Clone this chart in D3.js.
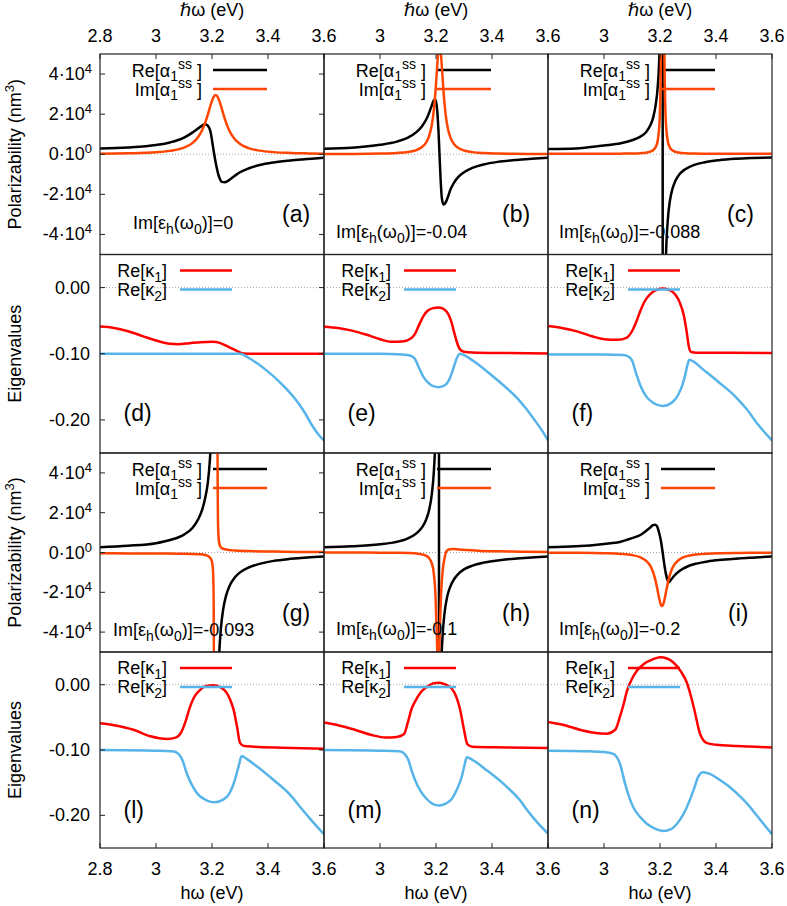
<!DOCTYPE html>
<html><head><meta charset="utf-8">
<script src="https://cdn.jsdelivr.net/npm/d3@7"></script>
<style>
body{margin:0;background:#fff}
svg{display:block}
text{font-family:"Liberation Sans",Arial,Helvetica,"DejaVu Sans",sans-serif;fill:#000}
</style>
</head><body>
<svg id="c" width="787" height="906"></svg>
<script>
// ---------------- DATA ----------------
// x axis ticks
const xTicks = [2.8, 3.0, 3.2, 3.4, 3.6];
const xTickLabels = ["2.8", "3", "3.2", "3.4", "3.6"];
// polarizability ticks (mantissa, exponent)
const polTicks = [-4e4, -2e4, 0, 2e4, 4e4];
const polTickLabels = [["-4", "4"], ["-2", "4"], ["0", "0"], ["2", "4"], ["4", "4"]];
// eigenvalue ticks
const eigTicks = [0, -0.1, -0.2];
const eigTickLabels = ["0.00", "-0.10", "-0.20"];
// panel letters and Im[eps_h] annotations
const panelLetters = ["(a)", "(b)", "(c)", "(d)", "(e)", "(f)", "(g)", "(h)", "(i)", "(l)", "(m)", "(n)"];
const imEpsValues = ["0", "-0.04", "-0.088", "-0.093", "-0.1", "-0.2"];

// Polarizability series [ħω (eV), value (nm^3)]
const aRe = [[2.80,2900],[2.90,3400],[3.00,4600],[3.05,5900],[3.10,8300],[3.13,10800],[3.15,12800],[3.165,14300],[3.175,15000],[3.185,14300],[3.195,11000],[3.205,2500],[3.215,-5500],[3.225,-11200],[3.235,-13800],[3.245,-14000],[3.26,-13000],[3.28,-10900],[3.30,-9000],[3.33,-7100],[3.37,-5400],[3.42,-4100],[3.48,-3100],[3.54,-2400],[3.60,-1700]];
const aIm = [[2.80,270],[2.90,470],[3.00,1000],[3.05,1680],[3.10,3290],[3.13,5560],[3.15,8480],[3.165,12090],[3.175,15500],[3.185,19800],[3.195,24500],[3.205,28400],[3.213,29500],[3.22,28600],[3.23,25000],[3.24,20300],[3.25,15900],[3.26,12400],[3.28,7760],[3.30,5150],[3.33,3090],[3.37,1800],[3.42,1060],[3.48,650],[3.54,435],[3.60,310]];
const bRe = [[2.80,2800],[2.90,3300],[3.00,4700],[3.06,6300],[3.10,8300],[3.13,11000],[3.15,14000],[3.165,17300],[3.175,20500],[3.185,24400],[3.192,26900],[3.198,27300],[3.204,22400],[3.209,11200],[3.2125,0],[3.216,-11200],[3.221,-22000],[3.227,-25000],[3.234,-24200],[3.242,-21500],[3.252,-17500],[3.265,-14000],[3.28,-11300],[3.30,-9000],[3.33,-6800],[3.37,-5100],[3.42,-3800],[3.48,-2900],[3.54,-2300],[3.60,-1700]];
const bIm = [[2.80,100],[2.90,150],[3.00,330],[3.06,640],[3.10,1160],[3.13,2100],[3.15,3600],[3.165,5900],[3.175,8900],[3.185,14600],[3.192,21600],[3.198,31000],[3.204,43500],[3.209,52600],[3.2125,55000],[3.216,52600],[3.221,43500],[3.227,31000],[3.234,20400],[3.242,13100],[3.252,8200],[3.265,5000],[3.28,3100],[3.30,1900],[3.33,1060],[3.37,600],[3.42,350],[3.48,210],[3.54,140],[3.60,100]];
const cRe = [[2.80,2600],[2.90,2900],[3.00,4400],[3.06,5500],[3.10,7000],[3.13,8800],[3.15,11000],[3.165,14300],[3.175,18000],[3.185,25000],[3.192,34000],[3.198,51000],[3.203,91000],[3.207,230000],[3.2095,1000000],[3.2097,-1000000],[3.212,-250000],[3.216,-94000],[3.221,-52600],[3.228,-32600],[3.236,-22700],[3.245,-17000],[3.255,-13200],[3.27,-9900],[3.29,-7500],[3.32,-5400],[3.36,-4000],[3.41,-3000],[3.47,-2300],[3.53,-1900],[3.60,-1600]];
const cIm = [[2.80,200],[2.90,200],[3.00,250],[3.06,300],[3.10,380],[3.13,540],[3.15,800],[3.165,1270],[3.175,2000],[3.185,3700],[3.192,7000],[3.198,15300],[3.203,44700],[3.207,197000],[3.2096,532000],[3.212,218000],[3.216,47300],[3.221,15900],[3.228,6400],[3.236,3200],[3.245,1900],[3.255,1200],[3.27,780],[3.29,530],[3.32,370],[3.36,290],[3.41,250],[3.47,230],[3.53,200],[3.60,200]];
const gRe = [[2.80,2700],[2.90,3400],[3.00,4700],[3.05,6300],[3.10,9000],[3.13,12300],[3.15,16500],[3.165,21500],[3.175,27000],[3.185,35000],[3.192,45600],[3.197,58300],[3.203,87500],[3.208,150000],[3.211,null],[3.2135,-154000],[3.218,-88000],[3.222,-63800],[3.226,-50000],[3.232,-37800],[3.24,-28500],[3.25,-21800],[3.265,-16100],[3.28,-12800],[3.30,-10000],[3.33,-7600],[3.37,-5700],[3.42,-4200],[3.48,-3200],[3.54,-2500],[3.60,-2000]];
const gIm = [[2.80,-400],[2.90,-450],[3.00,-500],[3.08,-600],[3.13,-700],[3.16,-900],[3.18,-1400],[3.19,-2200],[3.197,-3500],[3.201,-5500],[3.204,-10000],[3.206,-25000],[3.208,-100000],[3.210,-400000],[3.213,null],[3.216,400000],[3.2185,100000],[3.2205,30000],[3.222,12000],[3.2245,6000],[3.228,3500],[3.235,2200],[3.25,1500],[3.28,1000],[3.33,700],[3.40,500],[3.50,300],[3.60,200]];
const hRe = [[2.80,2700],[2.90,3100],[3.00,4100],[3.05,5100],[3.10,7100],[3.13,9600],[3.15,12600],[3.165,16600],[3.175,21100],[3.185,29200],[3.192,40000],[3.198,58500],[3.203,95000],[3.207,190000],[3.2105,600000],[3.2109,-600000],[3.213,-96800],[3.216,-70400],[3.219,-55300],[3.223,-43000],[3.23,-31000],[3.24,-22100],[3.25,-17500],[3.265,-13300],[3.28,-10700],[3.30,-8500],[3.33,-6600],[3.37,-5100],[3.42,-4000],[3.48,-3100],[3.54,-2500],[3.60,-2000]];
const hIm = [[2.80,0],[2.90,-30],[3.00,-70],[3.06,-140],[3.10,-270],[3.13,-520],[3.15,-930],[3.165,-1670],[3.175,-2780],[3.185,-5470],[3.192,-10300],[3.198,-21000],[3.203,-41900],[3.208,-62600],[3.213,-41900],[3.218,-21000],[3.224,-9000],[3.231,-2500],[3.238,800],[3.25,1600],[3.265,1700],[3.28,1500],[3.31,1200],[3.35,900],[3.42,600],[3.50,400],[3.60,250]];
const iRe = [[2.80,2700],[2.90,3100],[3.00,4300],[3.06,5400],[3.10,7200],[3.13,8800],[3.15,10800],[3.165,12600],[3.175,13700],[3.183,14000],[3.19,13000],[3.197,9800],[3.203,6000],[3.207,2500],[3.211,-1500],[3.217,-7500],[3.224,-12500],[3.231,-15000],[3.24,-13600],[3.25,-11800],[3.265,-9800],[3.28,-8300],[3.30,-6900],[3.33,-5600],[3.37,-4500],[3.42,-3700],[3.48,-3000],[3.54,-2500],[3.60,-2000]];
const iIm = [[2.80,-100],[2.90,-160],[3.00,-360],[3.06,-700],[3.10,-1300],[3.13,-2400],[3.15,-4100],[3.165,-6600],[3.175,-9700],[3.183,-13500],[3.19,-18000],[3.197,-23000],[3.203,-26300],[3.207,-27000],[3.211,-26300],[3.217,-23000],[3.224,-18000],[3.231,-13500],[3.24,-9300],[3.25,-6400],[3.265,-4000],[3.28,-2600],[3.30,-1700],[3.33,-1000],[3.37,-570],[3.42,-340],[3.48,-210],[3.54,-140],[3.60,-100]];

// Eigenvalue series [ħω (eV), Re[kappa]]
const dK1 = [[2.80,-0.059],[2.85,-0.061],[2.90,-0.066],[2.95,-0.073],[3.00,-0.080],[3.05,-0.085],[3.08,-0.0855],[3.12,-0.084],[3.16,-0.0825],[3.20,-0.082],[3.23,-0.084],[3.26,-0.090],[3.29,-0.096],[3.31,-0.0995],[3.35,-0.100],[3.45,-0.100],[3.60,-0.100]];
const dK2 = [[2.80,-0.100],[3.00,-0.100],[3.20,-0.100],[3.30,-0.100],[3.33,-0.106],[3.36,-0.114],[3.40,-0.127],[3.44,-0.142],[3.47,-0.155],[3.50,-0.170],[3.53,-0.188],[3.56,-0.210],[3.58,-0.222],[3.60,-0.231]];
const eK1 = [[2.80,-0.059],[2.85,-0.061],[2.90,-0.065],[2.95,-0.071],[3.00,-0.078],[3.04,-0.082],[3.08,-0.0815],[3.11,-0.077],[3.125,-0.070],[3.14,-0.056],[3.155,-0.043],[3.17,-0.035],[3.19,-0.031],[3.21,-0.030],[3.23,-0.033],[3.245,-0.041],[3.255,-0.052],[3.265,-0.068],[3.275,-0.083],[3.285,-0.093],[3.30,-0.097],[3.33,-0.098],[3.45,-0.099],[3.60,-0.0995]];
const eK2 = [[2.80,-0.100],[3.00,-0.100],[3.08,-0.101],[3.11,-0.103],[3.125,-0.108],[3.14,-0.122],[3.155,-0.135],[3.17,-0.143],[3.19,-0.149],[3.21,-0.1505],[3.23,-0.148],[3.245,-0.141],[3.255,-0.131],[3.265,-0.118],[3.275,-0.106],[3.285,-0.100],[3.30,-0.102],[3.34,-0.113],[3.38,-0.126],[3.42,-0.140],[3.45,-0.151],[3.49,-0.167],[3.52,-0.182],[3.55,-0.199],[3.58,-0.217],[3.60,-0.231]];
const fK1 = [[2.80,-0.058],[2.85,-0.061],[2.91,-0.067],[2.96,-0.074],[3.00,-0.078],[3.05,-0.079],[3.08,-0.076],[3.10,-0.066],[3.115,-0.052],[3.13,-0.035],[3.145,-0.021],[3.165,-0.010],[3.19,-0.003],[3.21,-0.0015],[3.235,-0.004],[3.255,-0.011],[3.27,-0.022],[3.285,-0.042],[3.295,-0.066],[3.303,-0.089],[3.31,-0.097],[3.33,-0.0985],[3.45,-0.0985],[3.60,-0.099]];
const fK2 = [[2.80,-0.101],[3.00,-0.101],[3.07,-0.102],[3.09,-0.105],[3.10,-0.110],[3.115,-0.130],[3.13,-0.148],[3.15,-0.164],[3.175,-0.174],[3.21,-0.179],[3.245,-0.173],[3.265,-0.162],[3.28,-0.147],[3.29,-0.132],[3.298,-0.117],[3.305,-0.109],[3.32,-0.112],[3.355,-0.124],[3.41,-0.143],[3.47,-0.165],[3.51,-0.184],[3.55,-0.207],[3.60,-0.231]];
const lK1 = [[2.80,-0.059],[2.85,-0.062],[2.92,-0.069],[2.98,-0.079],[3.04,-0.083],[3.07,-0.081],[3.09,-0.073],[3.105,-0.057],[3.12,-0.036],[3.135,-0.020],[3.155,-0.009],[3.18,-0.002],[3.205,-0.001],[3.23,-0.004],[3.25,-0.011],[3.265,-0.023],[3.278,-0.040],[3.29,-0.066],[3.30,-0.089],[3.315,-0.094],[3.35,-0.095],[3.45,-0.0965],[3.60,-0.098]];
const lK2 = [[2.80,-0.100],[3.00,-0.101],[3.06,-0.102],[3.08,-0.106],[3.095,-0.116],[3.11,-0.136],[3.13,-0.155],[3.15,-0.168],[3.18,-0.177],[3.21,-0.180],[3.24,-0.176],[3.26,-0.168],[3.28,-0.148],[3.295,-0.125],[3.306,-0.109],[3.325,-0.114],[3.36,-0.125],[3.42,-0.146],[3.48,-0.169],[3.52,-0.190],[3.56,-0.210],[3.60,-0.229]];
const mK1 = [[2.80,-0.058],[2.85,-0.062],[2.91,-0.069],[2.97,-0.077],[3.02,-0.081],[3.06,-0.080],[3.085,-0.076],[3.10,-0.057],[3.112,-0.038],[3.125,-0.026],[3.145,-0.012],[3.167,-0.0035],[3.19,0.002],[3.21,0.003],[3.235,0.000],[3.256,-0.006],[3.272,-0.018],[3.285,-0.036],[3.30,-0.069],[3.312,-0.091],[3.33,-0.095],[3.45,-0.096],[3.60,-0.097]];
const mK2 = [[2.80,-0.100],[3.00,-0.101],[3.07,-0.102],[3.09,-0.107],[3.101,-0.115],[3.115,-0.134],[3.125,-0.146],[3.145,-0.163],[3.167,-0.175],[3.19,-0.183],[3.21,-0.185],[3.235,-0.182],[3.256,-0.175],[3.275,-0.160],[3.292,-0.141],[3.302,-0.123],[3.31,-0.111],[3.33,-0.115],[3.381,-0.131],[3.452,-0.156],[3.50,-0.177],[3.524,-0.191],[3.56,-0.210],[3.60,-0.228]];
const nK1 = [[2.80,-0.057],[2.86,-0.062],[2.914,-0.069],[2.97,-0.074],[3.01,-0.075],[3.04,-0.069],[3.057,-0.049],[3.07,-0.030],[3.081,-0.011],[3.10,0.009],[3.117,0.021],[3.14,0.031],[3.176,0.039],[3.20,0.042],[3.225,0.040],[3.248,0.034],[3.275,0.020],[3.295,0.004],[3.31,-0.017],[3.324,-0.041],[3.342,-0.074],[3.366,-0.089],[3.40,-0.092],[3.474,-0.094],[3.60,-0.096]];
const nK2 = [[2.80,-0.101],[2.95,-0.102],[3.00,-0.103],[3.033,-0.106],[3.057,-0.121],[3.075,-0.151],[3.09,-0.172],[3.105,-0.188],[3.13,-0.203],[3.153,-0.213],[3.18,-0.220],[3.212,-0.224],[3.24,-0.221],[3.271,-0.207],[3.29,-0.193],[3.307,-0.176],[3.325,-0.155],[3.336,-0.141],[3.354,-0.134],[3.38,-0.137],[3.414,-0.146],[3.45,-0.157],[3.486,-0.171],[3.515,-0.184],[3.545,-0.200],[3.575,-0.216],[3.60,-0.229]];

// ---------------- LAYOUT ----------------
const svg = d3.select("#c");
const defs = svg.append("defs");
const colX = [100, 324, 548], colW = 224;
const rowTop = [54, 254.5, 453, 652], rowBot = [254.5, 453, 652, 848];
const C = {black: "#000000", orange: "#ff4500", red: "#ff0000", blue: "#56b4e9"};
const FS = 18;

function rich(sel, x, y, parts, o) {
  const t = sel.append("text").attr("x", x).attr("y", y)
    .attr("text-anchor", o.anchor || "start").attr("font-size", o.size);
  if (o.transform) t.attr("transform", o.transform);
  let cur = 0;
  parts.forEach(p => {
    const off = p.sub ? o.subDy : (p.sup ? -o.supDy : 0);
    t.append("tspan").attr("dy", off - cur)
      .attr("font-size", (p.sub || p.sup) ? o.small : o.size)
      .attr("xml:space", "preserve")
      .text(p.t);
    cur = off;
  });
  return t;
}

const panels = [
  {row:0,col:0,type:"pol",s:[aRe,aIm],letter:0,eps:0,annX:33,annY:175,labX:182},
  {row:0,col:1,type:"pol",s:[bRe,bIm],letter:1,eps:1,annX:12,annY:184,labX:178},
  {row:0,col:2,type:"pol",s:[cRe,cIm],letter:2,eps:2,annX:11,annY:184,labX:179},
  {row:1,col:0,type:"eig",s:[dK1,dK2],letter:3},
  {row:1,col:1,type:"eig",s:[eK1,eK2],letter:4},
  {row:1,col:2,type:"eig",s:[fK1,fK2],letter:5},
  {row:2,col:0,type:"pol",s:[gRe,gIm],letter:6,eps:3,annX:13,annY:183,labX:182},
  {row:2,col:1,type:"pol",s:[hRe,hIm],letter:7,eps:4,annX:12,annY:182,labX:178},
  {row:2,col:2,type:"pol",s:[iRe,iIm],letter:8,eps:5,annX:11,annY:182,labX:180},
  {row:3,col:0,type:"eig",s:[lK1,lK2],letter:9},
  {row:3,col:1,type:"eig",s:[mK1,mK2],letter:10},
  {row:3,col:2,type:"eig",s:[nK1,nK2],letter:11}
];

panels.forEach((p, idx) => {
  const x0 = colX[p.col], top = rowTop[p.row], bot = rowBot[p.row];
  const isPol = p.type === "pol";
  const xs = d3.scaleLinear().domain([2.8, 3.6]).range([x0, x0 + colW]);
  const ys = d3.scaleLinear().domain(isPol ? [-5e4, 5e4] : [-0.25, 0.05]).range([bot, top]);
  const g = svg.append("g");
  const cid = "clip" + idx;
  defs.append("clipPath").attr("id", cid).append("rect")
    .attr("x", x0).attr("y", top).attr("width", colW).attr("height", bot - top);

  // zero line
  g.append("line").attr("x1", x0).attr("x2", x0 + colW)
    .attr("y1", ys(0)).attr("y2", ys(0))
    .attr("stroke", "#a8a8a8").attr("stroke-width", 1).attr("stroke-dasharray", "1,2");

  const colors = isPol ? [C.black, C.orange] : [C.red, C.blue];
  const legY = [16, 35];
  const lx = isPol ? [113, 167] : [80, 132];
  const line = d3.line().defined(d => d[1] !== null)
    .x(d => xs(d[0])).y(d => ys(d[1])).curve(d3.curveMonotoneX);

  p.s.forEach((series, k) => {
    g.append("line").attr("x1", x0 + lx[0]).attr("x2", x0 + lx[1])
      .attr("y1", top + legY[k]).attr("y2", top + legY[k])
      .attr("stroke", colors[k]).attr("stroke-width", 2.5);
    g.append("path").datum(series).attr("d", line)
      .attr("fill", "none").attr("stroke", colors[k]).attr("stroke-width", 2.5)
      .attr("stroke-linejoin", "round").attr("clip-path", `url(#${cid})`);
  });

  // legend texts
  if (isPol) {
    const names = ["Re[α", "Im[α"];
    names.forEach((nm, k) => {
      rich(g, x0 + 102, top + legY[k] + 7, [{t: nm}, {t: "1", sub: true}, {t: "ss", sup: true}, {t: " ]"}],
        {anchor: "end", size: FS, small: 14, subDy: 4, supDy: 8});
    });
  } else {
    ["1", "2"].forEach((n, k) => {
      rich(g, x0 + 67, top + legY[k] + 6, [{t: "Re[κ"}, {t: n, sub: true}, {t: "]"}],
        {anchor: "end", size: FS, small: 14, subDy: 5, supDy: 0});
    });
  }

  // annotation + letter
  if (isPol) {
    rich(g, x0 + p.annX, top + p.annY,
      [{t: "Im[ε"}, {t: "h", sub: true}, {t: "(ω"}, {t: "0", sub: true}, {t: ")]=" + imEpsValues[p.eps]}],
      {size: FS, small: 14, subDy: 5, supDy: 0});
    g.append("text").attr("x", x0 + p.labX).attr("y", top + 168)
      .attr("font-size", 23).text(panelLetters[p.letter]);
  } else {
    g.append("text").attr("x", x0 + 23.5).attr("y", top + 166)
      .attr("font-size", 23).text(panelLetters[p.letter]);
  }

  // frame
  g.append("rect").attr("x", x0).attr("y", top).attr("width", colW).attr("height", bot - top)
    .attr("fill", "none").attr("stroke", "#222").attr("stroke-width", 1.2);

  const TL = 5;
  // y ticks (first column, both sides)
  if (p.col === 0) {
    const tv = isPol ? polTicks : eigTicks;
    tv.forEach((v, i) => {
      const y = ys(v);
      g.append("line").attr("x1", x0).attr("x2", x0 + TL).attr("y1", y).attr("y2", y).attr("stroke", "#222");
      g.append("line").attr("x1", x0 + colW - TL).attr("x2", x0 + colW).attr("y1", y).attr("y2", y).attr("stroke", "#222");
      if (isPol) {
        const [m, e] = polTickLabels[i];
        rich(svg, x0 - 8, y + 6, [{t: m + "·10"}, {t: e, sup: true}],
          {anchor: "end", size: FS, small: 13, subDy: 0, supDy: 7});
      } else {
        svg.append("text").attr("x", x0 - 10).attr("y", y + 6).attr("text-anchor", "end")
          .attr("font-size", FS).text(eigTickLabels[i]);
      }
    });
  }
  // x ticks: top of first row, bottom of last row
  if (p.row === 0 || p.row === 3) {
    xTicks.forEach((v, i) => {
      const x = xs(v);
      const yb = p.row === 0 ? top : bot;
      const dir = p.row === 0 ? 1 : -1;
      g.append("line").attr("x1", x).attr("x2", x).attr("y1", yb).attr("y2", yb + dir * TL).attr("stroke", "#222");
      if (p.col === 0 || i > 0) {
        svg.append("text").attr("x", x).attr("y", p.row === 0 ? 41.5 : 874.5)
          .attr("text-anchor", "middle").attr("font-size", FS).text(xTickLabels[i]);
      }
    });
    const cx = x0 + colW / 2;
    if (p.row === 0) {
      svg.append("text").attr("x", cx).attr("y", 16).attr("text-anchor", "middle")
        .attr("font-size", FS).text("ℏω (eV)");
    } else {
      svg.append("text").attr("x", cx).attr("y", 899).attr("text-anchor", "middle")
        .attr("font-size", FS).text("hω (eV)");
    }
  }
});

// y axis titles
[0, 2].forEach(r => {
  const cy = (rowTop[r] + rowBot[r]) / 2;
  rich(svg, 0, 0, [{t: "Polarizability (nm"}, {t: "3", sup: true}, {t: ")"}],
    {anchor: "middle", size: FS, small: 13, subDy: 0, supDy: 7, transform: `translate(21,${cy}) rotate(-90)`});
});
[1, 3].forEach(r => {
  const cy = (rowTop[r] + rowBot[r]) / 2;
  svg.append("text").attr("transform", `translate(21,${cy}) rotate(-90)`)
    .attr("text-anchor", "middle").attr("font-size", FS).text("Eigenvalues");
});
</script>
</body></html>
